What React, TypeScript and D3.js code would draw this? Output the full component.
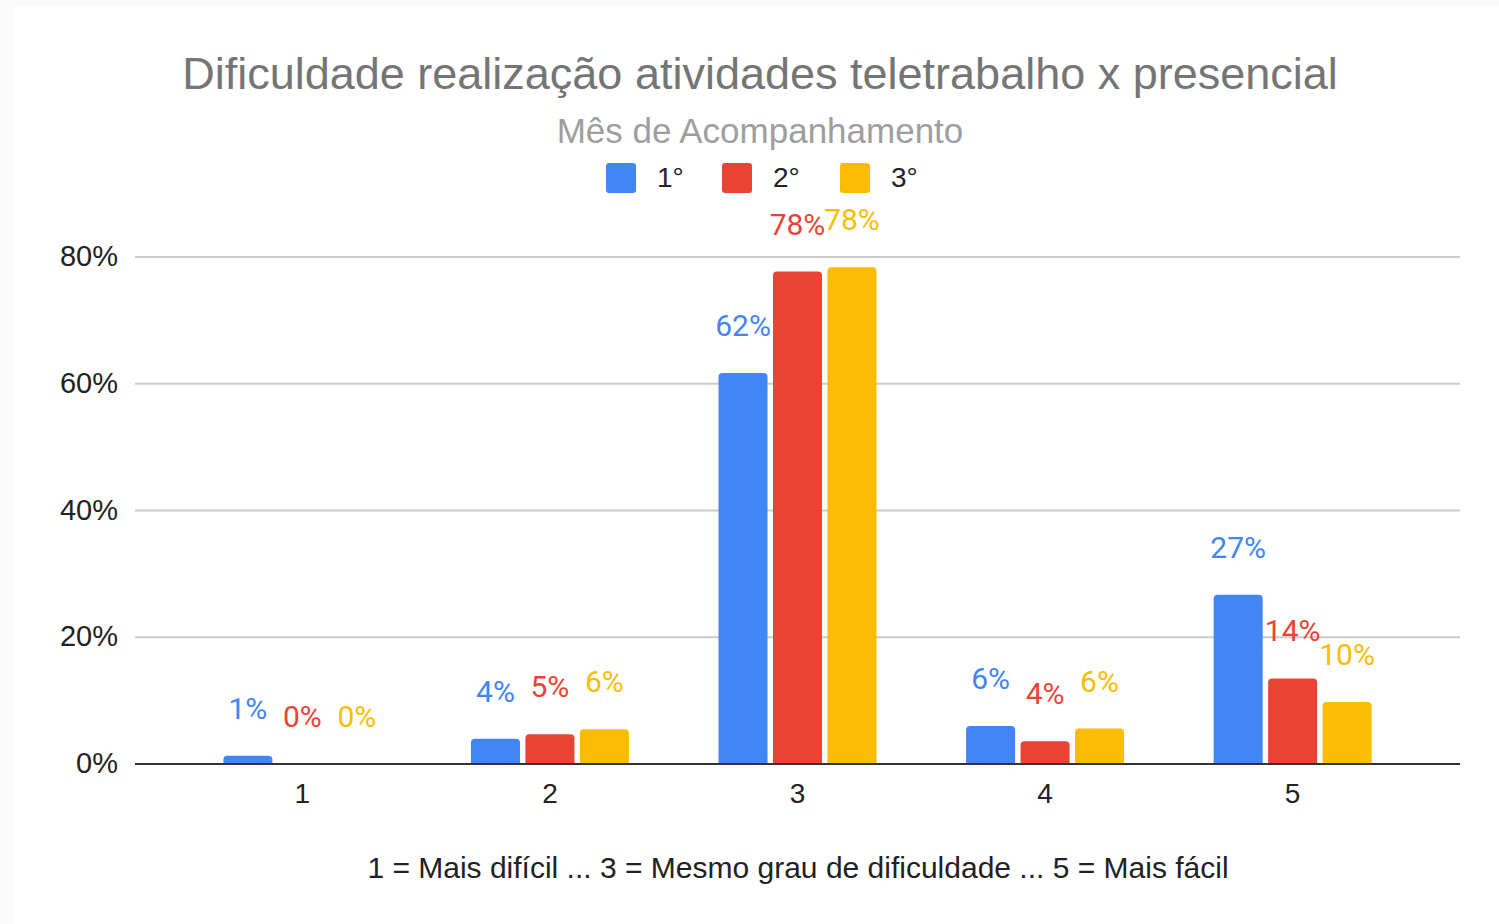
import React from 'react'
import * as d3 from 'd3'

// data
const categories = ['1', '2', '3', '4', '5']
const seriesNames = ['1°', '2°', '3°']
const seriesColors = ['#4285f4', '#ea4335', '#fbbc04']
const mes1 = [0.013, 0.04, 0.617, 0.06, 0.267]
const mes2 = [0.0, 0.047, 0.777, 0.036, 0.135]
const mes3 = [0.0, 0.055, 0.784, 0.056, 0.098]
const yTicks = [0, 0.2, 0.4, 0.6, 0.8]

const W = 1499
const H = 924

function topRoundedBar(x: number, y: number, w: number, h: number, r: number) {
    if (h <= 0) return ''
    const rr = Math.min(r, h, w / 2)
    return `M${x},${y + h}V${y + rr}Q${x},${y} ${x + rr},${y}H${x + w - rr}Q${x + w},${y} ${x + w},${y + rr}V${y + h}Z`
}

export default function App() {
    const values = [mes1, mes2, mes3]
    const left = 135, right = 1460, top = 257, bottom = 764

    const x = d3.scaleBand().domain(categories).range([left, right])
        .paddingInner(0.362).paddingOuter(0.357)
    const xs = d3.scaleBand().domain(seriesNames).range([0, x.bandwidth()])
        .paddingInner(0.1)
    const y = d3.scaleLinear().domain([0, 0.8]).range([bottom, top])
    const pct = d3.format('.0%')

    const font = 'Arial, "Liberation Sans", sans-serif'
    const legendX = [606, 722, 840]

    return (
        <svg width={W} height={H} style={{ position: 'absolute', left: 0, top: 0 }}>
            <rect x={0} y={0} width={W} height={H} fill='#fafafa' />
            <rect x={14} y={7} width={W - 14} height={H - 7} fill='#ffffff' />

            <text x={760} y={89} textAnchor='middle' fontFamily={font} fontSize={45} fill='#757575'>
                Dificuldade realização atividades teletrabalho x presencial
            </text>
            <text x={760} y={143} textAnchor='middle' fontFamily={font} fontSize={35} fill='#9e9e9e'>
                Mês de Acompanhamento
            </text>

            {seriesNames.map((s, i) => (
                <g key={s}>
                    <rect x={legendX[i]} y={163} width={30} height={30} rx={3} fill={seriesColors[i]} />
                    <text x={legendX[i] + 51} y={187} fontFamily={font} fontSize={28} fill='#222'>{s}</text>
                </g>
            ))}

            {yTicks.map(t => (
                <g key={t}>
                    {t > 0 && <line x1={left} x2={right} y1={y(t)} y2={y(t)} stroke='#cccccc' strokeWidth={2} />}
                    <text x={118} y={y(t) + 9} textAnchor='end' fontFamily={font} fontSize={29} fill='#222'>
                        {pct(t)}
                    </text>
                </g>
            ))}

            {categories.map((c, ci) => (
                <g key={c}>
                    {values.map((vals, si) => {
                        const bx = (x(c) as number) + (xs(seriesNames[si]) as number)
                        const bw = xs.bandwidth()
                        const by = y(vals[ci])
                        return (
                            <g key={si}>
                                <path d={topRoundedBar(bx, by, bw, bottom - by, 4)} fill={seriesColors[si]} />
                                <text x={bx + bw / 2} y={by - 37} textAnchor='middle'
                                    fontFamily='Roboto, sans-serif' fontSize={30} fill={seriesColors[si]}>
                                    {pct(vals[ci])}
                                </text>
                            </g>
                        )
                    })}
                    <text x={(x(c) as number) + x.bandwidth() / 2} y={803} textAnchor='middle'
                        fontFamily={font} fontSize={28} fill='#222'>{c}</text>
                </g>
            ))}

            <line x1={left} x2={right} y1={bottom} y2={bottom} stroke='#333333' strokeWidth={2} />

            <text x={798} y={878} textAnchor='middle' fontFamily={font} fontSize={30} fill='#222'>
                1 = Mais difícil ... 3 = Mesmo grau de dificuldade ... 5 = Mais fácil
            </text>
        </svg>
    )
}
